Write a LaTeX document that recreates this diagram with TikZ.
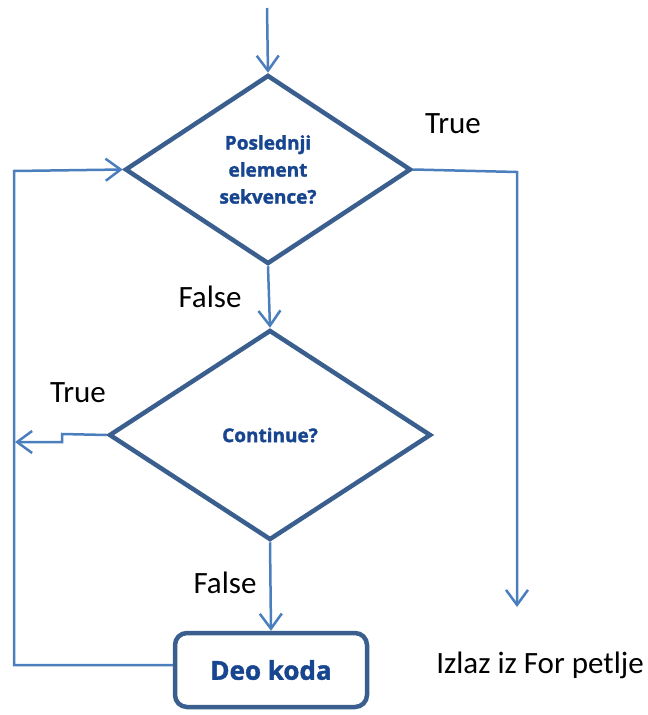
\documentclass[tikz,border=0pt]{standalone}
\usepackage{fontspec}
\setmainfont{Carlito}
\newfontfamily\boxfont[BoldFeatures={FakeBold=1.6}]{Open Sans}
\usetikzlibrary{shapes.geometric,arrows.meta}
\definecolor{shapeblue}{HTML}{3A5F8F}
\definecolor{linkblue}{HTML}{4A7EBC}
\definecolor{textblue}{HTML}{17458F}
\begin{document}
\begin{tikzpicture}[x=1pt,y=-1pt,
  decision/.style={diamond, draw=shapeblue, line width=4.5pt, inner sep=0pt,
    align=center, text=textblue, font=\boxfont\bfseries\fontsize{19}{27}\selectfont},
  process/.style={rectangle, rounded corners=12pt, draw=shapeblue, line width=4.5pt,
    text=textblue, font=\boxfont\bfseries\fontsize{26}{30}\selectfont},
  link/.style={draw=linkblue, line width=2.5pt},
  arrowlink/.style={link, -{Straight Barb[length=15pt,width=22pt,line width=2.5pt]}},
  label/.style={font=\fontsize{31}{36}\selectfont, text=black, inner sep=0pt}
]
\useasboundingbox (0,0) rectangle (648,715);

% decisions and the loop body
\node[decision, minimum width=286pt, minimum height=189pt] (last) at (268,169.5)
  {Poslednji\\element\\sekvence?};
\node[decision, minimum width=322pt, minimum height=210pt] (cont) at (270,435)
  {Continue?};
\node[process, minimum width=192pt, minimum height=74pt] (body) at (271,670) {Deo koda};

% helper points for the connectors
\coordinate (entry) at (267,8);
\coordinate (exitcorner) at (517,172);
\coordinate (exitend) at (517,607);
\coordinate (stepa) at (62,434);
\coordinate (stepb) at (62,442);
\coordinate (backtip) at (15,442);
\coordinate (loopbottom) at (14,665);
\coordinate (looptop) at (14,171);

% connectors
\draw[arrowlink] (entry) -- (last.north);
\draw[arrowlink] (last.east) -- (exitcorner) -- (exitend);
\draw[arrowlink] (last.south) -- (cont.north);
\draw[arrowlink] (cont.south) -- (body.north);
\draw[arrowlink] (cont.west) -- (stepa) -- (stepb) -- (backtip);
\draw[arrowlink] ([yshift=5pt]body.west) -- (loopbottom) -- (looptop) -- (last.west);

% branch labels
\node[label] (t1) at (453,124) {True};
\node[label] (f1) at (210,297) {False};
\node[label] (t2) at (78,393) {True};
\node[label] (f2) at (225,583) {False};
\node[label] (exitlabel) at (540,665) {Izlaz iz For petlje};
\end{tikzpicture}
\end{document}
